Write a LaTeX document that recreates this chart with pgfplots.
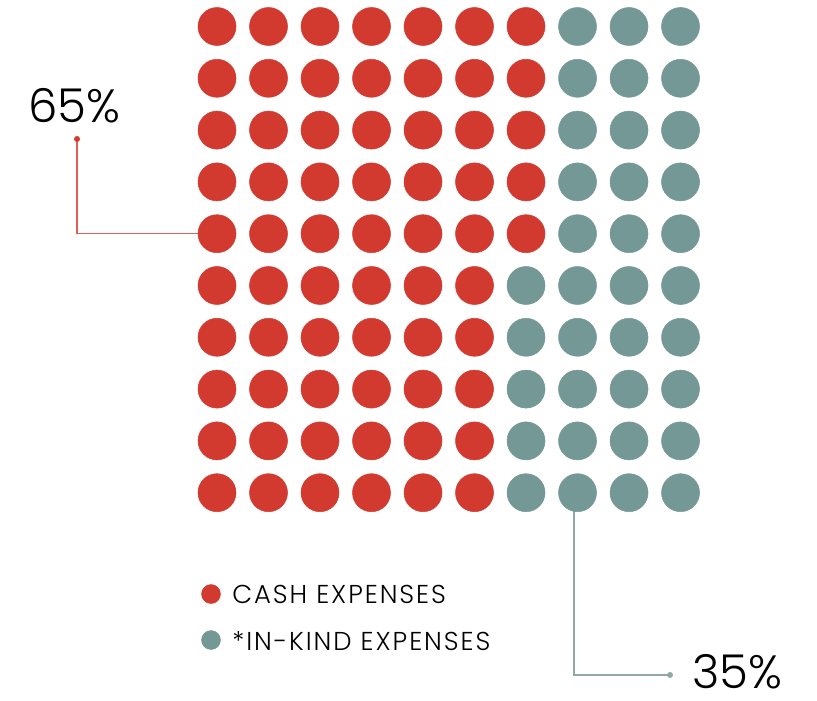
\documentclass[border=0pt]{standalone}
\usepackage{pgfplots}
\pgfplotsset{compat=1.18}
\usepackage{fontspec}
\setmainfont{Poppins Light}
\newfontfamily\legfont{Poppins Light}[LetterSpace=7.5]
\definecolor{cashred}{HTML}{D33A2F}
\definecolor{kindteal}{HTML}{749895}
\definecolor{redline}{HTML}{DE6157}
\definecolor{tealline}{HTML}{90A9A7}
\begin{document}
\begin{tikzpicture}
\begin{axis}[
  width=612.75pt, height=525pt, scale only axis,
  hide axis, clip=false,
  xmin=-4.2136, xmax=11.650,
  ymin=-13.002, ymax=0.5116,
]
% waffle: cash (65 dots)
\addplot[cashred, only marks, mark=*, mark size=14.25pt, mark options={draw=none, fill=cashred}] coordinates {
(0,0)(1,0)(2,0)(3,0)(4,0)(5,0)(6,0)
(0,-1)(1,-1)(2,-1)(3,-1)(4,-1)(5,-1)(6,-1)
(0,-2)(1,-2)(2,-2)(3,-2)(4,-2)(5,-2)(6,-2)
(0,-3)(1,-3)(2,-3)(3,-3)(4,-3)(5,-3)(6,-3)
(0,-4)(1,-4)(2,-4)(3,-4)(4,-4)(5,-4)(6,-4)
(0,-5)(1,-5)(2,-5)(3,-5)(4,-5)(5,-5)
(0,-6)(1,-6)(2,-6)(3,-6)(4,-6)(5,-6)
(0,-7)(1,-7)(2,-7)(3,-7)(4,-7)(5,-7)
(0,-8)(1,-8)(2,-8)(3,-8)(4,-8)(5,-8)
(0,-9)(1,-9)(2,-9)(3,-9)(4,-9)(5,-9)
};
% waffle: in-kind (35 dots)
\addplot[kindteal, only marks, mark=*, mark size=14.25pt, mark options={draw=none, fill=kindteal}] coordinates {
(7,0)(8,0)(9,0)
(7,-1)(8,-1)(9,-1)
(7,-2)(8,-2)(9,-2)
(7,-3)(8,-3)(9,-3)
(7,-4)(8,-4)(9,-4)
(6,-5)(7,-5)(8,-5)(9,-5)
(6,-6)(7,-6)(8,-6)(9,-6)
(6,-7)(7,-7)(8,-7)(9,-7)
(6,-8)(7,-8)(8,-8)(9,-8)
(6,-9)(7,-9)(8,-9)(9,-9)
};
% leader lines
\addplot[redline, line width=1.1pt, no marks] coordinates {(-2.7184,-2.1718)(-2.7184,-4)(-0.37,-4)};
\addplot[cashred, only marks, mark=*, mark size=2pt, mark options={draw=none, fill=cashred}] coordinates {(-2.7184,-2.1718)};
\addplot[tealline, line width=1.1pt, no marks] coordinates {(6.932,-9)(6.932,-12.519)(8.796,-12.519)};
\addplot[tealline, only marks, mark=*, mark size=2pt, mark options={draw=none, fill=tealline}] coordinates {(8.796,-12.519)};
% legend dots
\addplot[cashred, only marks, mark=*, mark size=7.1pt, mark options={draw=none, fill=cashred}] coordinates {(-0.1165,-10.956)};
\addplot[kindteal, only marks, mark=*, mark size=7.1pt, mark options={draw=none, fill=kindteal}] coordinates {(-0.1165,-11.844)};
% texts
\node[anchor=base west, inner sep=0pt, font=\fontsize{35}{40}\selectfont] at (rel axis cs:0.03427,0.82429) {65\%};
\node[anchor=base west, inner sep=0pt, font=\fontsize{35}{40}\selectfont] at (rel axis cs:0.84700,0.016) {35\%};
\node[anchor=base west, inner sep=0pt, font=\legfont\fontsize{19.4}{22}\selectfont] at (rel axis cs:0.28397,0.13857) {CASH EXPENSES};
\node[anchor=base west, inner sep=0pt, font=\legfont\fontsize{19.4}{22}\selectfont] at (rel axis cs:0.28397,0.07043) {*IN-KIND EXPENSES};
\end{axis}
\pgfresetboundingbox
\path[use as bounding box] (current axis.south west) rectangle (current axis.north east);
\end{tikzpicture}
\end{document}
